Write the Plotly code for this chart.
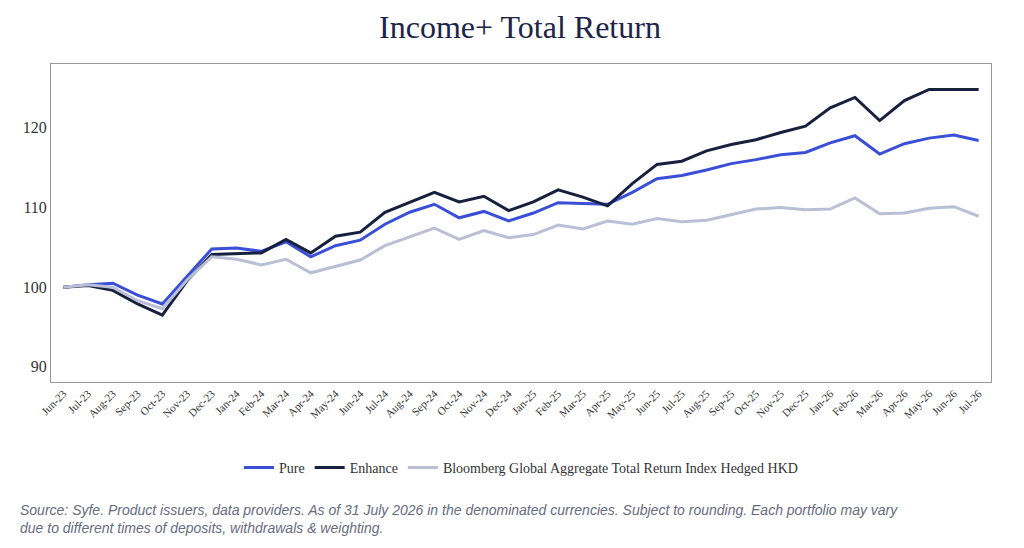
import plotly.graph_objects as go

months = ["Jun-23", "Jul-23", "Aug-23", "Sep-23", "Oct-23", "Nov-23", "Dec-23",
          "Jan-24", "Feb-24", "Mar-24", "Apr-24", "May-24", "Jun-24", "Jul-24",
          "Aug-24", "Sep-24", "Oct-24", "Nov-24", "Dec-24", "Jan-25", "Feb-25",
          "Mar-25", "Apr-25", "May-25", "Jun-25", "Jul-25", "Aug-25", "Sep-25",
          "Oct-25", "Nov-25", "Dec-25", "Jan-26", "Feb-26", "Mar-26", "Apr-26",
          "May-26", "Jun-26", "Jul-26"]

pure = [100, 100.3, 100.5, 99.0, 97.9, 101.3, 104.8, 104.9, 104.5, 105.7, 103.8,
        105.2, 105.9, 107.9, 109.4, 110.4, 108.7, 109.5, 108.3, 109.3, 110.6,
        110.5, 110.4, 111.9, 113.6, 114.0, 114.7, 115.5, 116.0, 116.6, 116.9,
        118.1, 119.0, 116.7, 118.0, 118.7, 119.1, 118.4]

enhance = [100, 100.2, 99.6, 97.9, 96.5, 100.8, 104.1, 104.2, 104.3, 106.0, 104.3,
           106.4, 106.9, 109.4, 110.7, 111.9, 110.7, 111.4, 109.6, 110.7, 112.2,
           111.3, 110.2, 113.0, 115.4, 115.8, 117.1, 117.9, 118.5, 119.4, 120.2,
           122.5, 123.8, 120.9, 123.4, 124.8, 124.8, 124.8]

bloomberg = [100, 100.3, 100.0, 98.3, 97.3, 100.9, 103.8, 103.5, 102.8, 103.5, 101.8,
             102.6, 103.4, 105.2, 106.3, 107.4, 106.0, 107.1, 106.2, 106.6, 107.8,
             107.3, 108.3, 107.9, 108.6, 108.2, 108.4, 109.1, 109.8, 110.0, 109.7,
             109.8, 111.2, 109.2, 109.3, 109.9, 110.1, 108.9]

series = [
    ("Pure", pure, "#3a4fd8"),
    ("Enhance", enhance, "#17213f"),
    ("Bloomberg Global Aggregate Total Return Index Hedged HKD", bloomberg, "#babfd6"),
]

fig = go.Figure()
for name, vals, color in series:
    fig.add_trace(go.Scatter(x=months, y=vals, name=name, mode="lines",
                             line=dict(color=color, width=3)))

fig.update_layout(
    width=1024, height=548,
    paper_bgcolor="white", plot_bgcolor="white",
    margin=dict(l=43, r=41, t=56, b=174),
    font=dict(family="Liberation Serif", color="#333333"),
    title=dict(text="Income+ Total Return", x=0.5, xanchor="center", y=0.965,
               yanchor="middle", font=dict(size=32, color="#1c2448")),
    legend=dict(orientation="h", x=0.5, xanchor="center", y=-0.27, yanchor="middle",
                font=dict(size=14, color="#333333")),
    annotations=[dict(
        text="Source: Syfe. Product issuers, data providers. As of 31 July 2026 in the denominated currencies. Subject to rounding. Each portfolio may vary<br>due to different times of deposits, withdrawals & weighting.",
        xref="paper", yref="paper", x=-0.035, y=-0.43, xanchor="left", yanchor="middle",
        align="left", showarrow=False,
        font=dict(family="Liberation Sans", size=14, color="#666b80", style="italic"))],
)
fig.update_xaxes(showgrid=False, tickangle=-45, tickfont=dict(size=11),
                 showline=True, linecolor="#999999", mirror=True,
                 range=[-0.5, len(months) - 0.5])
fig.update_yaxes(showgrid=False, range=[88.1, 128], tickvals=[90, 100, 110, 120],
                 tickfont=dict(size=16), showline=True, linecolor="#999999", mirror=True)

fig.write_html("out.html")
